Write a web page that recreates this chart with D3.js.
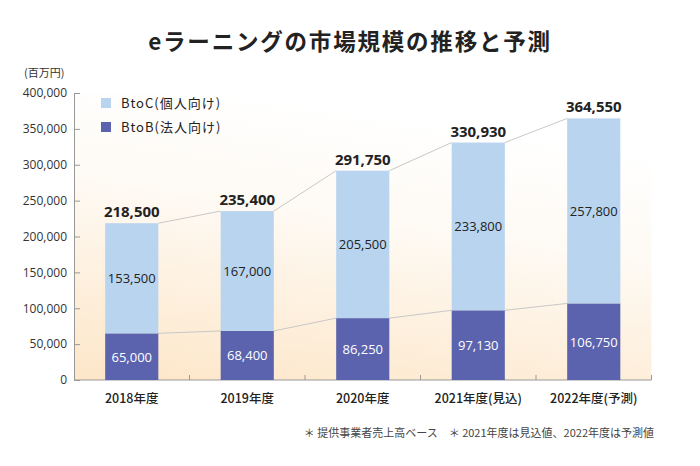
<!DOCTYPE html>
<html><head><meta charset="utf-8">
<script src="https://cdn.jsdelivr.net/npm/d3@7"></script>
<style>body{margin:0;background:#fff;}svg{display:block;font-family:"Noto Sans CJK JP","Noto Sans",sans-serif;}</style>
</head><body>
<svg id="c" width="700" height="466"></svg>
<script>
const categories = ["2018年度","2019年度","2020年度","2021年度(見込)","2022年度(予測)"];
const btob = [65000, 68400, 86250, 97130, 106750];
const btoc = [153500, 167000, 205500, 233800, 257800];
const totals = [218500, 235400, 291750, 330930, 364550];
const yTicks = [0,50000,100000,150000,200000,250000,300000,350000,400000];
const seriesNames = ["BtoC(個人向け)","BtoB(法人向け)"];

const svg = d3.select("#c");
const x0=74, x1=651.5, yTop=93, yBot=380;
const defs = svg.append("defs");
const g1 = defs.append("linearGradient").attr("id","bg").attr("x1","0.3").attr("y1","0").attr("x2","0").attr("y2","1");
g1.append("stop").attr("offset","0").attr("stop-color","#ffffff");
g1.append("stop").attr("offset","0.35").attr("stop-color","#fefaf4");
g1.append("stop").attr("offset","1").attr("stop-color","#fde6c8");
svg.append("rect").attr("x",x0).attr("y",yTop).attr("width",x1-x0).attr("height",yBot-yTop).attr("fill","url(#bg)");

const x = d3.scaleBand().domain(categories).range([x0,x1]).paddingInner(0.54).paddingOuter(0.27);
const y = d3.scaleLinear().domain([0,400000]).range([yBot,yTop]);

// title
svg.append("text").attr("x",350).attr("y",50).attr("text-anchor","middle").attr("font-size",22.5).attr("letter-spacing",1.8).attr("font-weight","bold").attr("fill","#222").text("eラーニングの市場規模の推移と予測");
svg.append("text").attr("x",24).attr("y",77).attr("font-size",11).attr("fill","#333").text("(百万円)");

// y axis
const nf = "'Open Sans','Noto Sans',sans-serif";
const yAxis = d3.axisLeft(y).tickValues(yTicks).tickSize(-6).tickPadding(7).tickFormat(d3.format(","));
const ya = svg.append("g").attr("transform",`translate(${x0},0)`).call(yAxis);
ya.selectAll("text").attr("font-size",12).attr("fill","#333").attr("font-family",nf);
ya.selectAll("line,path").attr("stroke","#999");

// x axis
const xa = svg.append("g");
xa.append("line").attr("x1",x0).attr("x2",x1).attr("y1",yBot).attr("y2",yBot).attr("stroke","#999");
const step = (x1-x0)/categories.length;
xa.selectAll("line.t").data(d3.range(1,categories.length+1)).join("line").attr("class","t")
 .attr("x1",i=>x0+i*step).attr("x2",i=>x0+i*step).attr("y1",yBot).attr("y2",yBot-5).attr("stroke","#999");
xa.selectAll("text").data(categories).join("text").attr("x",d=>x(d)+x.bandwidth()/2).attr("y",403)
 .attr("text-anchor","middle").attr("font-size",12.5).attr("font-weight",500).attr("fill","#222").text(d=>d);

// connecting lines
const bw = x.bandwidth();
for(let i=0;i<categories.length-1;i++){
  svg.append("line").attr("x1",x(categories[i])+bw).attr("y1",y(totals[i])).attr("x2",x(categories[i+1])).attr("y2",y(totals[i+1])).attr("stroke","#c8c8c8").attr("stroke-width",1);
  svg.append("line").attr("x1",x(categories[i])+bw).attr("y1",y(btob[i])).attr("x2",x(categories[i+1])).attr("y2",y(btob[i+1])).attr("stroke","#c8c8c8").attr("stroke-width",1);
}

// bars
const cB="#5b63ae", cC="#b9d4ef";
svg.selectAll("rect.b").data(categories).join("rect").attr("class","b")
 .attr("x",d=>x(d)).attr("width",bw).attr("y",(d,i)=>y(btob[i])).attr("height",(d,i)=>y(0)-y(btob[i])).attr("fill",cB);
svg.selectAll("rect.c").data(categories).join("rect").attr("class","c")
 .attr("x",d=>x(d)).attr("width",bw).attr("y",(d,i)=>y(btob[i]+btoc[i])).attr("height",(d,i)=>y(btob[i])-y(btob[i]+btoc[i])).attr("fill",cC);

const fmt = d3.format(",");
svg.selectAll("text.lb").data(categories).join("text").attr("class","lb")
 .attr("x",d=>x(d)+bw/2).attr("y",(d,i)=>(y(0)+y(btob[i]))/2+5).attr("text-anchor","middle")
 .attr("font-size",13).attr("fill","#fff").attr("font-family",nf).text((d,i)=>fmt(btob[i]));
svg.selectAll("text.lc").data(categories).join("text").attr("class","lc")
 .attr("x",d=>x(d)+bw/2).attr("y",(d,i)=>(y(btob[i])+y(btob[i]+btoc[i]))/2+5).attr("text-anchor","middle")
 .attr("font-size",13).attr("fill","#222").attr("font-family",nf).text((d,i)=>fmt(btoc[i]));
svg.selectAll("text.lt").data(categories).join("text").attr("class","lt")
 .attr("x",d=>x(d)+bw/2).attr("y",(d,i)=>y(totals[i])-6).attr("text-anchor","middle")
 .attr("font-size",15).attr("font-weight","bold").attr("fill","#222").attr("font-family",nf).text((d,i)=>fmt(totals[i]));

// legend
const lg = svg.append("g");
[cC,cB].forEach((c,i)=>{
  lg.append("rect").attr("x",101).attr("y",98+i*24).attr("width",10).attr("height",10).attr("fill",c);
  lg.append("text").attr("x",121).attr("y",108+i*24).attr("font-size",13).attr("letter-spacing",1).attr("fill","#222").text(seriesNames[i]);
});

// footnote
svg.append("text").attr("x",654).attr("y",437).attr("text-anchor","end").attr("font-size",11).attr("fill","#444")
 .text("＊ 提供事業者売上高ベース　＊ 2021年度は見込値、2022年度は予測値");
</script>
</body></html>
